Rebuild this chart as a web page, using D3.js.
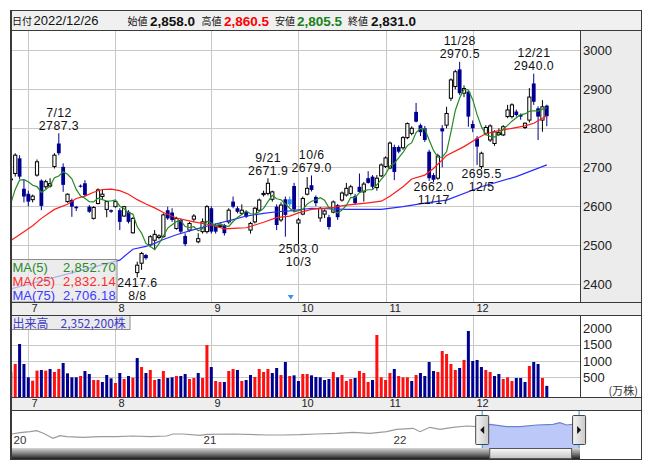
<!DOCTYPE html>
<html><head><meta charset="utf-8">
<script src="https://cdn.jsdelivr.net/npm/d3@7/dist/d3.min.js"></script>
<style>
html,body{margin:0;padding:0;background:#fff;}
svg{display:block;font-family:"Liberation Sans",Arial,"Noto Sans CJK JP",sans-serif;}
</style></head><body>
<svg id="c" width="653" height="470"></svg>
<script>
// ---------------- DATA ----------------
const dates = ["06/27","06/28","06/29","06/30",
"07/01","07/04","07/05","07/06","07/07","07/08","07/11","07/12","07/13","07/14","07/15","07/19","07/20","07/21","07/22","07/25","07/26","07/27","07/28","07/29",
"08/01","08/02","08/03","08/04","08/05","08/08","08/09","08/10","08/12","08/15","08/16","08/17","08/18","08/19","08/22","08/23","08/24","08/25","08/26","08/29","08/30","08/31",
"09/01","09/02","09/05","09/06","09/07","09/08","09/09","09/12","09/13","09/14","09/15","09/16","09/20","09/21","09/22","09/26","09/27","09/28","09/29","09/30",
"10/03","10/04","10/05","10/06","10/07","10/11","10/12","10/13","10/14","10/17","10/18","10/19","10/20","10/21","10/24","10/25","10/26","10/27","10/28","10/31",
"11/01","11/02","11/04","11/07","11/08","11/09","11/10","11/11","11/14","11/15","11/16","11/17","11/18","11/21","11/22","11/24","11/25","11/28","11/29","11/30",
"12/01","12/02","12/05","12/06","12/07","12/08","12/09","12/12","12/13","12/14","12/15","12/16","12/19","12/20","12/21","12/22","12/23","12/26"];

const opens = [2668,2684,2723,2645,2632,2617,2680,2666,2650,2652,
2702,2761,2701,2612,2616,2599,2653,2659,2599,2569,
2607,2625,2592,2590,2599,2590,2575,2586,2532,2430,
2454,2475,2501,2513,2520,2522,2590,2584,2543,2565,
2524,2539,2567,2509,2535,2535,2595,2552,2548,2552,
2560,2612,2595,2582,2586,2539,2560,2590,2630,2633,
2618,2599,2565,2618,2618,2652,2557,2580,2631,2654,
2624,2570,2580,2572,2585,2603,2616,2629,2633,2626,
2650,2637,2672,2676,2648,2678,2702,2698,2752,2752,
2750,2776,2787,2842,2808,2800,2740,2680,2672,2800,
2808,2877,2907,2951,2890,2894,2811,2774,2702,2787,
2770,2761,2784,2783,2830,2830,2843,2834,2802,2821,
2915,2851,2821,2858];

const highs = [2674,2736,2731,2668,2640,2630,2720,2669,2668,2672,
2736,2787.3,2710,2633,2620,2601,2656,2667,2603,2600,
2646,2642,2612,2592,2614,2595,2601,2590,2572,2458,
2483,2478,2526,2539,2528,2582,2599,2595,2573,2568,
2531,2560,2580,2531,2569,2603,2600,2556,2556,2555,
2595,2625,2600,2605,2590,2560,2598,2620,2640,2671.9,
2640,2605,2610,2625,2625,2660,2570,2625,2675,2679,
2628,2598,2592,2578,2615,2606,2638,2660,2655,2632,
2684,2662,2690,2680,2680,2710,2728,2766,2758,2756,
2780,2815,2805,2865,2812,2806,2745,2685,2735,2808,
2855,2928,2950,2970.5,2910,2898,2820,2780,2740,2808,
2810,2795,2800,2808,2860,2864,2848,2838,2815,2903,
2940,2856,2872,2860.5];

const lows = [2664,2676,2670,2610,2600,2610,2676,2590,2645,2648,
2697,2731,2637,2609,2573,2588,2648,2625,2583,2566,
2605,2616,2572,2583,2597,2539,2573,2556,2530,2417.6,
2437,2463,2495,2488,2515,2520,2565,2560,2540,2530,
2498,2535,2560,2505,2530,2530,2530,2530,2545,2525,
2555,2595,2582,2578,2570,2530,2556,2586,2625,2628,
2612,2539,2560,2522,2600,2585,2503,2577,2628,2638,
2600,2560,2570,2540,2582,2565,2612,2625,2628,2604,
2635,2612,2658,2645,2640,2675,2698,2695,2667,2736,
2745,2772,2782,2815,2780,2765,2665,2662,2668,2700,
2800,2870,2900,2885,2880,2804,2790,2706,2695.5,2782,
2765,2755,2780,2780,2826,2825,2830,2822,2798,2815,
2860,2770,2791,2805.5];

const closes = [2670,2731,2676,2625,2612,2626,2714,2601,2663,2658,
2731,2736,2655,2631,2599,2595,2650,2629,2586,2597,
2642,2631,2612,2586,2612,2560,2599,2560,2569,2449,
2479,2467,2522,2528,2524,2578,2569,2565,2569,2535,
2503,2556,2575,2517,2560,2599,2535,2535,2550,2531,
2590,2599,2586,2590,2573,2556,2595,2616,2633,2659,
2637,2552,2603,2578,2605,2592,2565,2620,2646,2642,
2608,2595,2588,2547,2611,2572,2634,2646,2650,2608,
2637,2657,2660,2650,2672,2706,2724,2762,2688,2740,
2776,2812,2800,2817,2790,2770,2672,2668,2729,2792,
2838,2924,2945,2890,2902,2830,2800,2753,2736,2802,
2806,2791,2789,2804,2847,2860,2834,2830,2813,2880,
2868,2830,2855,2831];

// volume in 万株
const volumes = [672,908,1523,908,498,395,703,723,703,754,
662,754,938,620,498,498,538,692,600,415,
415,354,569,467,323,631,446,538,487,1092,
815,631,723,415,446,692,477,498,538,538,
600,446,477,631,477,1492,815,385,354,354,
692,754,723,385,415,569,508,754,662,754,
631,785,569,969,538,559,385,600,600,559,
508,498,415,446,662,498,569,385,446,477,
692,631,354,415,1800,498,415,631,754,538,
498,498,385,569,631,538,969,692,662,1308,
1215,908,723,785,1031,1923,1000,1031,815,723,
662,538,600,446,498,385,477,477,354,846,
969,908,477,235];

// closes of the four sessions before the first visible one (for the MA(5) window)
const prevCloses = [2555,2557,2618,2640];

// MA(25) and MA(75) at sample sessions
const ma25Idx = [0,3,5,7,10,13,15,17,19,21,23,25,27,29,31,33,35,38,42,46,49,52,54,56,58,61,64,66,69,74,77,82,85,87,90,92,95,97,100,104,107,109,112,115,118,120,123];
const ma25Val = [2512,2535,2550,2569,2592,2605,2620,2626,2636,2643,2644,2640,2631,2617,2606,2596,2584,2570,2560,2552,2542,2544,2545,2552,2559,2571,2575,2583,2592,2597,2603,2609,2613,2626,2650,2670,2680,2697,2730,2753,2774,2786,2794,2800,2806,2813,2832.14];
const ma75Idx = [0,25,28,31,33,35,38,42,46,51,54,58,61,64,69,77,85,90,95,100,108,116,123];
const ma75Val = [2388,2462,2490,2497,2505,2515,2527,2540,2552,2566,2575,2582,2586,2588,2595,2592,2592,2599,2608,2616,2650,2676,2706.18];

const priceTicks = [2400,2500,2600,2700,2800,2900,3000];
const volTicks = [500,1000,1500,2000];
const volGridTicks = [500,1000,1500];
const highlightDates = ["09/29"];

const annotations = [
  {date:"07/12", label:"7/12",  value:2787.3, kind:"high"},
  {date:"09/21", label:"9/21",  value:2671.9, kind:"high"},
  {date:"10/06", label:"10/6",  value:2679.0, kind:"high"},
  {date:"11/28", label:"11/28", value:2970.5, kind:"high"},
  {date:"12/21", label:"12/21", value:2940.0, kind:"high"},
  {date:"08/08", label:"8/8",   value:2417.6, kind:"low"},
  {date:"10/03", label:"10/3",  value:2503.0, kind:"low"},
  {date:"11/17", label:"11/17", value:2662.0, kind:"low"},
  {date:"12/05", label:"12/5",  value:2695.5, kind:"low"}
];

const headerDate = "2022/12/26";
const headerItems = [
  {name:"始値", value:"2,858.0", color:"#111"},
  {name:"高値", value:"2,860.5", color:"#ff0000"},
  {name:"安値", value:"2,805.5", color:"#17821a"},
  {name:"終値", value:"2,831.0", color:"#111"}
];
const legendNames = ["MA(5)","MA(25)","MA(75)"];
const legendValues = ["2,852.70","2,832.14","2,706.18"];
const volumeLabel = "出来高　2,352,200株";
const volUnit = "(万株)";

// navigator: long-term history (decimal year, price)
const navYears = [2020.004,2020.047,2020.1,2020.135,2020.17,2020.205,2020.221,2020.258,2020.293,2020.379,2020.468,2020.556,2020.642,2020.732,2020.819,2020.853,2020.905,2020.995,2021.03,2021.168,2021.346,2021.432,2021.521,2021.609,2021.714,2021.8,2021.889,2021.977,2022.03,2022.116,2022.153,2022.205,2022.258,2022.326,2022.398,2022.451,2022.521,2022.609,2022.679,2022.767,2022.853,2022.889,2022.924,2022.968];
const navValues = [1596,1745,1859,1973,1676,1288,1106,1402,1288,1220,1288,1288,1368,1288,1368,1596,1596,1448,1562,1596,1482,1482,1516,1596,1676,1790,1676,1859,2132,2246,1859,2360,2132,2360,2509,2429,2702,2429,2429,2623,2702,2885,2623,2737];
const navYearLabels = [2020,2021,2022];
const navSelection = [2022.48, 2022.99];

// ---------------- LAYOUT ----------------
const svg = d3.select("#c");
const L = 11, R = 580, RO = 641;
const T = 30, PB = 302, S1B = 315, VB = 397, S2B = 410, NB = 448, SB = 459;
const MONO = "'Liberation Sans', Arial, sans-serif";
const CJK = "'Noto Sans CJK JP', sans-serif";
const NAVY = "#000090";

const x = d3.scaleLinear().domain([0, dates.length - 1]).range([10.87, 546.8]);
const y = d3.scaleLinear().domain([2354.6, 3052]).range([PB, T]);
const yv = d3.scaleLinear().domain([0, 2000]).range([393.5, 328.5]);

// backgrounds
svg.append("rect").attr("x",0).attr("y",0).attr("width",653).attr("height",470).attr("fill","#fff");
svg.append("rect").attr("x",10).attr("y",10).attr("width",RO-10).attr("height",T-10).attr("fill","#f0f0f0");
svg.append("rect").attr("x",R).attr("y",T).attr("width",RO-R).attr("height",PB-T).attr("fill","#ececec");
svg.append("rect").attr("x",L).attr("y",PB).attr("width",RO-L).attr("height",S1B-PB).attr("fill","#eeeeee");
svg.append("rect").attr("x",L).attr("y",VB).attr("width",RO-L).attr("height",S2B-VB).attr("fill","#eeeeee");

const defs = svg.append("defs");
defs.append("clipPath").attr("id","pc").append("rect").attr("x",L).attr("y",T).attr("width",R-L).attr("height",PB-T);
defs.append("clipPath").attr("id","vc").append("rect").attr("x",L).attr("y",S1B).attr("width",R-L).attr("height",VB-S1B);

// month starts
const monthStarts = [];
dates.forEach((d,i)=>{ if(i>0 && d.slice(0,2)!==dates[i-1].slice(0,2)) monthStarts.push(i); });

// gridlines
const grid = svg.append("g").attr("stroke","#c8c8c8").attr("stroke-width",1).attr("shape-rendering","crispEdges");
priceTicks.forEach(t=>{
  const yy = Math.round(y(t)) + 0.5;
  grid.append("line").attr("x1",L).attr("x2",R).attr("y1",yy).attr("y2",yy);
});
volGridTicks.forEach(t=>{
  const yy = Math.round(yv(t)) + 0.5;
  grid.append("line").attr("x1",L).attr("x2",R).attr("y1",yy).attr("y2",yy);
});
monthStarts.forEach(i=>{
  const xx = Math.round(x(i)) + 0.5;
  grid.append("line").attr("x1",xx).attr("x2",xx).attr("y1",T).attr("y2",PB);
  grid.append("line").attr("x1",xx).attr("x2",xx).attr("y1",S1B).attr("y2",VB);
});

// ---------------- CANDLES ----------------
const cg = svg.append("g").attr("clip-path","url(#pc)");
dates.forEach((d,i)=>{
  const o = opens[i], h = highs[i], l = lows[i], c = closes[i];
  const cx = x(i);
  const up = c >= o;
  const special = highlightDates.includes(d);
  const col = special ? "#2f8cf0" : (up ? "#000" : NAVY);
  const top = y(Math.max(o,c)), bot = y(Math.min(o,c));
  cg.append("line").attr("x1",cx).attr("x2",cx).attr("y1",y(h)).attr("y2",y(l))
    .attr("stroke", up ? "#000" : col).attr("stroke-width",1);
  if (up) {
    cg.append("rect").attr("x",cx-1.6).attr("y",top).attr("width",3.2).attr("height",Math.max(bot-top,0.8))
      .attr("fill","#fff").attr("stroke","#000").attr("stroke-width",1);
  } else {
    cg.append("rect").attr("x",cx-1.9).attr("y",top).attr("width",3.8).attr("height",Math.max(bot-top,1))
      .attr("fill",col);
  }
});

// ---------------- MOVING AVERAGES ----------------
const allCloses = prevCloses.concat(closes);
const ma5 = closes.map((c,i)=> d3.mean(allCloses.slice(i, i+5)));
const lineGen = d3.line().x(d=>x(d[0])).y(d=>y(d[1]));
const mg = svg.append("g").attr("clip-path","url(#pc)").attr("fill","none");
mg.append("path").attr("d", lineGen(ma75Idx.map((k,j)=>[k, ma75Val[j]]))).attr("stroke","#2b2bff").attr("stroke-width",1.2);
mg.append("path").attr("d", lineGen(ma25Idx.map((k,j)=>[k, ma25Val[j]]))).attr("stroke","#ff1a1a").attr("stroke-width",1.2);
mg.append("path").attr("d", lineGen(ma5.map((v,i)=>[i, v]))).attr("stroke","#228b22").attr("stroke-width",1.2);

// ---------------- HIGH / LOW ANNOTATIONS ----------------
const ag = svg.append("g").attr("font-family",MONO).attr("font-size",12.3).attr("letter-spacing",0.45).attr("fill","#111").attr("text-anchor","middle");
annotations.forEach(a=>{
  const i = dates.indexOf(a.date);
  const cx = x(i) + 0.2, yy = y(a.value);
  const vs = a.value.toFixed(1);
  if (a.kind === "high") {
    ag.append("text").attr("x",cx).attr("y",yy-3.5).text(vs);
    ag.append("text").attr("x",cx).attr("y",yy-16.3).text(a.label);
  } else {
    ag.append("text").attr("x",cx).attr("y",yy+9.3).text(vs);
    ag.append("text").attr("x",cx).attr("y",yy+22.3).text(a.label);
  }
});

// marker triangle (ex-rights)
highlightDates.forEach(d=>{
  const cx = x(dates.indexOf(d)) + 1;
  svg.append("path").attr("d",`M${cx-3},${PB-7} L${cx+3},${PB-7} L${cx},${PB-2.5} Z`).attr("fill","#3a8ff0");
});

// MA legend box
const lg = svg.append("g");
lg.append("rect").attr("x",L).attr("y",259.5).attr("width",106).attr("height",PB-259.5)
  .attr("fill","rgba(228,228,228,0.72)").attr("stroke","#8c8c8c").attr("stroke-width",1);
const legendColors = ["#2a8a2a","#ff2a2a","#3b3bff"];
legendNames.forEach((n,j)=>{
  const yy = 271.5 + j*14.2;
  lg.append("text").attr("x",L+1.5).attr("y",yy).attr("font-family",MONO).attr("font-size",13).attr("fill",legendColors[j]).text(n);
  lg.append("text").attr("x",L+105).attr("y",yy).attr("font-family",MONO).attr("font-size",13).attr("letter-spacing",0.3).attr("fill",legendColors[j]).attr("text-anchor","end").text(legendValues[j]);
});

// ---------------- PRICE AXIS ----------------
const pa = svg.append("g").attr("font-family",MONO).attr("font-size",13).attr("fill","#222");
priceTicks.forEach(t=>{
  pa.append("text").attr("x",R+3).attr("y",y(t)+4.5).text(t);
});

// ---------------- VOLUME ----------------
const vg = svg.append("g").attr("clip-path","url(#vc)");
volumes.forEach((v,i)=>{
  const prev = i === 0 ? prevCloses[prevCloses.length-1] : closes[i-1];
  const up = closes[i] >= prev;
  const cx = x(i);
  vg.append("rect").attr("x",cx-1.5).attr("y",yv(v)).attr("width",3).attr("height",VB - yv(v))
    .attr("fill", up ? "#ff1010" : NAVY);
});
const vb = svg.append("g");
vb.append("rect").attr("x",L).attr("y",S1B+0.5).attr("width",119).attr("height",14)
  .attr("fill","rgba(232,232,232,0.85)").attr("stroke","#8c8c8c").attr("stroke-width",1);
vb.append("text").attr("x",L+1.5).attr("y",S1B+12.5).attr("font-family",CJK).attr("font-size",12).attr("fill","#3b3bc8").text(volumeLabel);
const va = svg.append("g").attr("font-family",MONO).attr("font-size",13).attr("fill","#222");
volTicks.forEach(t=>{ va.append("text").attr("x",R+3).attr("y",yv(t)+4.5).text(t); });
va.append("text").attr("x",RO-3).attr("y",VB-2.5).attr("text-anchor","end").attr("font-family",CJK).attr("font-size",11).attr("fill","#333").text(volUnit);

// ---------------- MONTH LABELS (strips) ----------------
const ml = svg.append("g").attr("font-family",MONO).attr("font-size",11).attr("fill","#222");
monthStarts.forEach(i=>{
  const lab = String(+dates[i].slice(0,2));
  ml.append("text").attr("x",Math.round(x(i))+3.5).attr("y",PB+10).text(lab);
  ml.append("text").attr("x",Math.round(x(i))+3.5).attr("y",VB+10).text(lab);
});

// ---------------- NAVIGATOR ----------------
const xn = d3.scaleLinear().domain([2020, 2023]).range([L, L+570]);
const yn = d3.scaleLinear().domain([0, 4333]).range([NB, S2B]);
const navPts = navYears.map((t,j)=>[t, navValues[j]]);
defs.append("clipPath").attr("id","selc").append("rect")
  .attr("x",xn(navSelection[0])).attr("y",S2B).attr("width",xn(navSelection[1])-xn(navSelection[0])).attr("height",NB-S2B);
defs.append("clipPath").attr("id","navc").append("rect").attr("x",L).attr("y",S2B).attr("width",R-L).attr("height",NB-S2B);
const nl = d3.line().x(d=>xn(d[0])).y(d=>yn(d[1]));
const na = d3.area().x(d=>xn(d[0])).y0(NB).y1(d=>yn(d[1]));
svg.append("path").attr("d",nl(navPts)).attr("fill","none").attr("stroke","#9a9a9a").attr("stroke-width",1.2).attr("clip-path","url(#navc)");
const sel = svg.append("g").attr("clip-path","url(#selc)");
sel.append("rect").attr("x",xn(navSelection[0])).attr("y",S2B).attr("width",xn(navSelection[1])-xn(navSelection[0])).attr("height",NB-S2B).attr("fill","#fff");
sel.append("path").attr("d",na(navPts.concat([[navSelection[1], navValues[navValues.length-1]]]))).attr("fill","#bcc8f7");
sel.append("path").attr("d",nl(navPts.concat([[navSelection[1], navValues[navValues.length-1]]]))).attr("fill","none").attr("stroke","#6d7fd6").attr("stroke-width",1.2);
const nyl = svg.append("g").attr("font-family",MONO).attr("font-size",11.5).attr("fill","#333");
navYearLabels.forEach(t=>{ nyl.append("text").attr("x",xn(t)+2.5).attr("y",NB-4).text(String(t).slice(2)); });

// scrollbar
const grd = defs.append("linearGradient").attr("id","trk").attr("x1",0).attr("y1",0).attr("x2",0).attr("y2",1);
grd.append("stop").attr("offset","0%").attr("stop-color","#d6d6d6");
grd.append("stop").attr("offset","45%").attr("stop-color","#8a8a8a");
grd.append("stop").attr("offset","100%").attr("stop-color","#1e1e1e");
const grd2 = defs.append("linearGradient").attr("id","thm").attr("x1",0).attr("y1",0).attr("x2",0).attr("y2",1);
grd2.append("stop").attr("offset","0%").attr("stop-color","#fafafa");
grd2.append("stop").attr("offset","100%").attr("stop-color","#c4c4c4");
const grd3 = defs.append("linearGradient").attr("id","hdl").attr("x1",0).attr("y1",0).attr("x2",1).attr("y2",0);
grd3.append("stop").attr("offset","0%").attr("stop-color","#f6f6f6");
grd3.append("stop").attr("offset","100%").attr("stop-color","#c9c9c9");
svg.append("rect").attr("x",L).attr("y",NB).attr("width",R-L).attr("height",SB-NB).attr("fill","url(#trk)");
const s0 = xn(navSelection[0]), s1 = xn(navSelection[1]);
svg.append("rect").attr("x",s0+7.5).attr("y",NB+0.5).attr("width",s1-s0-15).attr("height",SB-NB-1)
  .attr("fill","url(#thm)").attr("stroke","#555").attr("stroke-width",1);
// selection edge lines
[s0, s1].forEach(sx=>{
  svg.append("line").attr("x1",sx).attr("x2",sx).attr("y1",S2B).attr("y2",NB).attr("stroke","#1aa0d8").attr("stroke-width",1);
});
// handles
[[s0,"L"],[s1,"R"]].forEach(([sx,side])=>{
  svg.append("rect").attr("x",sx-6.5).attr("y",415.5).attr("width",13).attr("height",29)
    .attr("fill","url(#hdl)").attr("stroke","#444").attr("stroke-width",1).attr("rx",1);
  const tri = side==="L" ? `M${sx+2},${426} L${sx+2},${434} L${sx-2},${430} Z` : `M${sx-2},${426} L${sx-2},${434} L${sx+2},${430} Z`;
  svg.append("path").attr("d",tri).attr("fill","#111");
});

// ---------------- HEADER ----------------
const hd = svg.append("g").attr("fill","#111");
hd.append("text").attr("x",12).attr("y",24.5).attr("font-family",CJK).attr("font-size",10).text("日付");
hd.append("text").attr("x",33.5).attr("y",25).attr("font-family",MONO).attr("font-size",13).text(headerDate);
const hx = [[127.5,150],[201.5,224],[275,297],[348,371]];
headerItems.forEach((it,j)=>{
  hd.append("text").attr("x",hx[j][0]).attr("y",24.5).attr("font-family",CJK).attr("font-size",10).text(it.name);
  hd.append("text").attr("x",hx[j][1]).attr("y",25.5).attr("font-family",MONO).attr("font-size",13.5).attr("font-weight","bold").attr("fill",it.color).text(it.value);
});

// ---------------- FRAME LINES ----------------
const fr = svg.append("g").attr("stroke","#3a3a3a").attr("stroke-width",1).attr("shape-rendering","crispEdges").attr("fill","none");
fr.append("rect").attr("x",10.5).attr("y",10.5).attr("width",RO-10).attr("height",SB-10);
fr.append("line").attr("x1",10).attr("x2",RO).attr("y1",T+0.5).attr("y2",T+0.5);
[PB, S1B, VB, S2B].forEach(yy=> fr.append("line").attr("x1",10).attr("x2",RO).attr("y1",yy+0.5).attr("y2",yy+0.5));
fr.append("line").attr("x1",R+0.5).attr("x2",R+0.5).attr("y1",T).attr("y2",PB);
fr.append("line").attr("x1",R+0.5).attr("x2",R+0.5).attr("y1",S1B).attr("y2",VB);
fr.append("line").attr("x1",L).attr("x2",L).attr("y1",10).attr("y2",SB).attr("stroke-width",1.5);
</script>
</body></html>
